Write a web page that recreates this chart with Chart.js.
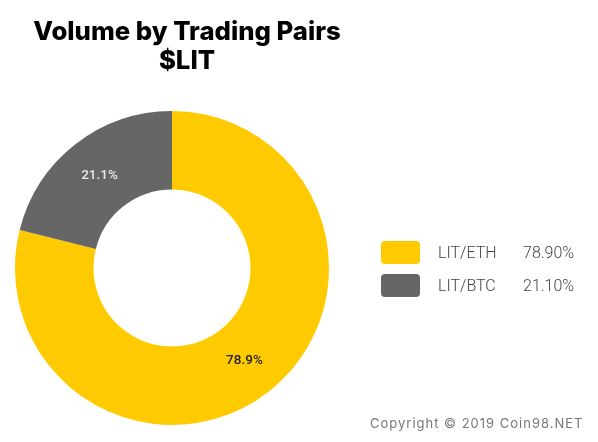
<!DOCTYPE html>
<html><head><meta charset="utf-8">
<style>html,body{margin:0;padding:0;background:#fff}#w{position:relative;width:598px;height:442px}canvas{position:absolute;left:0;top:0}</style>
<script src="https://cdn.jsdelivr.net/npm/chart.js@4"></script></head>
<body><div id="w"><canvas id="c" width="598" height="442"></canvas></div>
<script>
const categories = ['LIT/ETH','LIT/BTC'];
const values = [78.9,21.1];
const legendValues = ['78.90%','21.10%'];
const sliceLabels = ['78.9%','21.1%'];
const colors = ['#FFCB00','#666666'];
const titleLines = ['Volume by Trading Pairs','$LIT'];
const copyright = 'Copyright © 2019 Coin98.NET';
const extras = {
  id:'extras',
  afterDraw(chart){
    const c=chart.ctx, meta=chart.getDatasetMeta(0);
    c.save();
    c.textBaseline='middle';c.textAlign='center';
    c.fillStyle='#000';c.font='800 25.7px Inter';
    titleLines.forEach((t,i)=>c.fillText(t,187,32+i*29));
    c.font='500 13.5px Roboto';
    meta.data.forEach((arc,i)=>{
      const a=(arc.startAngle+arc.endAngle)/2, r=(arc.innerRadius+arc.outerRadius)/2;
      c.fillStyle=i===0?'#222':'#e8e8e8';
      c.fillText(sliceLabels[i],arc.x+Math.cos(a)*r,arc.y+Math.sin(a)*r);
    });
    c.textAlign='left';
    categories.forEach((n,i)=>{
      const y=252.5+i*33;
      c.fillStyle=colors[i];
      c.beginPath();c.roundRect(381,y-11.5,39,23,4);c.fill();
      c.fillStyle='#444';c.font='300 16px Roboto';
      c.fillText(n,438,y+1);
      c.fillText(legendValues[i],523,y+1);
    });
    c.fillStyle='#777';c.font='13px Inter';c.letterSpacing='1px';
    c.fillText(copyright,370,424);
    c.restore();
  }
};
new Chart(document.getElementById('c'),{
  type:'doughnut',
  data:{labels:categories,datasets:[{data:values,backgroundColor:colors,borderWidth:0}]},
  options:{
    responsive:false,animation:false,cutout:'50%',
    layout:{padding:{left:15,right:269,top:111,bottom:17}},
    plugins:{legend:{display:false},tooltip:{enabled:false},title:{display:false}}
  },
  plugins:[extras]
});
</script></body></html>
